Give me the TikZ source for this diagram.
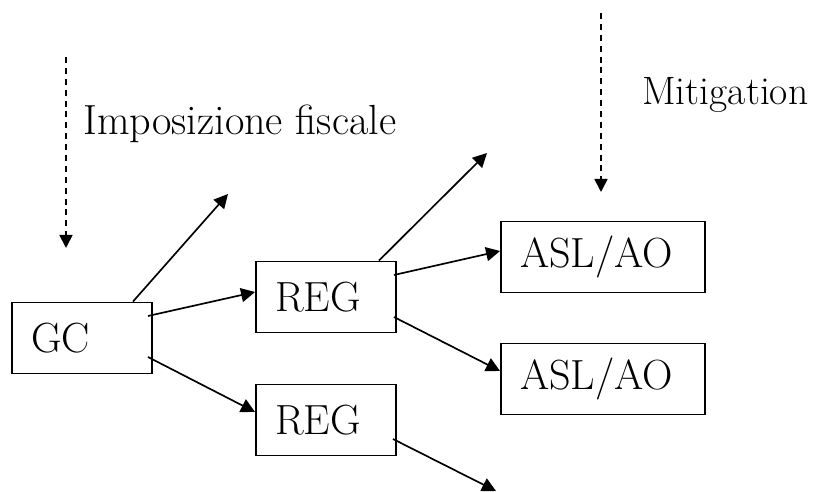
\documentclass[tikz,border=0pt]{standalone}
\usepackage{fontspec}
\usepackage{tikz}
\usetikzlibrary{arrows.meta,calc}

\begin{document}
\begin{tikzpicture}[x=0.02cm,y=-0.02cm,
  font=\fontsize{24}{29}\selectfont,
  box/.style={draw,line width=1.1pt,minimum height=1.42cm,inner xsep=0.38cm,
              text width=#1,align=left},
  ar/.style={-{Triangle[length=2.8mm,width=2.8mm]},line width=0.95pt},
  down/.style={-{Triangle[length=2.6mm,width=2.6mm]},line width=0.95pt,
               dash pattern=on 3.4pt off 2.8pt}]
  \useasboundingbox (0,0) rectangle (817,492);

  % boxes
  \node[box=2.04cm] (gc)   at (82,338)  {GC};
  \node[box=2.04cm] (reg1) at (326,297) {REG};
  \node[box=2.04cm] (reg2) at (326,420) {REG};
  \node[box=3.32cm] (asl1) at (603,257) {ASL/AO};
  \node[box=3.32cm] (asl2) at (603,379) {ASL/AO};

  % open ends
  \coordinate (gcup)    at (228,194);
  \coordinate (regup)   at (487,153);
  \coordinate (regdown) at (496,491);

  \draw[ar] ($(gc.east)+(-5,-22)$) -- ($(reg1.west)+(0,-5)$);
  \draw[ar] ($(gc.east)+(-5,19)$) -- ($(reg2.west)+(0,-8)$);
  \draw[ar] ($(gc.north)+(51,0)$) -- (gcup);
  \draw[ar] ($(reg1.east)+(-3,-22)$) -- ($(asl1.west)+(0,-6)$);
  \draw[ar] ($(reg1.east)+(-3,20)$) -- ($(asl2.west)+(0,-8)$);
  \draw[ar] ($(reg1.north)+(53,0)$) -- (regup);
  \draw[ar] ($(reg2.east)+(-4,19)$) -- (regdown);

  % pressure from above
  \coordinate (taxtop) at (66,57);
  \coordinate (taxend) at (66,248);
  \coordinate (mittop) at (601,13);
  \coordinate (mitend) at (601,192);
  \draw[down] (taxtop) -- (taxend);
  \draw[down] (mittop) -- (mitend);
  \node[anchor=base west,inner sep=0pt] (tax) at (83,135) {Imposizione fiscale};
  \node[anchor=base west,inner sep=0pt,font=\fontsize{22.5}{27}\selectfont]
    (mit) at (642,105) {Mitigation};
\end{tikzpicture}
\end{document}
